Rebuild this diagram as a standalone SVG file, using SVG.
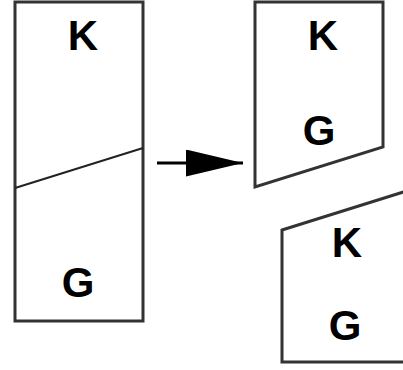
<svg xmlns="http://www.w3.org/2000/svg" width="403" height="370" viewBox="0 0 403 370">
<style>
.box{fill:#fff;stroke:#333;stroke-width:3;stroke-linejoin:miter}
.cut{fill:none;stroke:#222;stroke-width:2}
.lbl{font-family:"Liberation Sans",Arial,sans-serif;font-weight:bold;font-size:42px;fill:#000;text-anchor:middle}
</style>
<defs>
<marker id="ah" viewBox="0 0 57 27" refX="57" refY="13.5" markerWidth="57" markerHeight="27" markerUnits="userSpaceOnUse" orient="auto">
<path d="M0,0 L57,13.5 L0,27 Z" fill="#000"/>
</marker>
</defs>
<rect width="403" height="370" fill="#fff"/>
<g id="original">
<rect class="box" x="15" y="2" width="128" height="319"/>
<line class="cut" x1="15" y1="188" x2="143" y2="148"/>
<text class="lbl" x="83" y="50">K</text>
<text class="lbl" x="78" y="297">G</text>
</g>
<g id="top-piece">
<polygon class="box" points="255,2 383,2 383,147 255,187"/>
<text class="lbl" x="323" y="50">K</text>
<text class="lbl" x="319" y="145">G</text>
</g>
<g id="bottom-piece">
<polygon class="box" points="282,230 410,190 410,362 282,362"/>
<text class="lbl" x="347" y="257">K</text>
<text class="lbl" x="345" y="340">G</text>
</g>
<g id="connectors">
<line x1="157" y1="163" x2="243" y2="163" stroke="#000" stroke-width="3" marker-end="url(#ah)"/>
</g>
</svg>
